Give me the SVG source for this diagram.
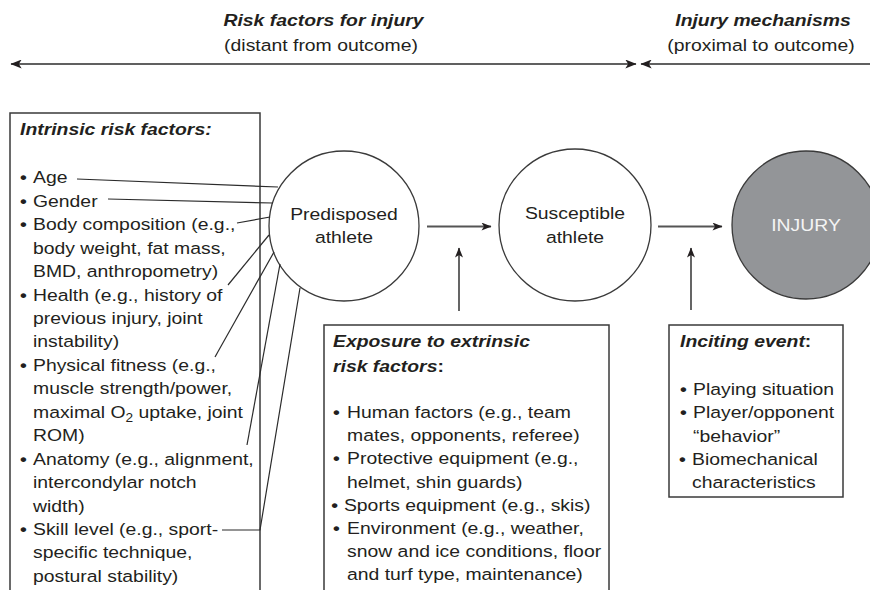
<svg xmlns="http://www.w3.org/2000/svg" width="870" height="590" viewBox="0 0 870 590">
<style>
text{font-family:"Liberation Sans",Arial,sans-serif;font-size:17px;fill:#231f20}
.h{font-weight:bold;font-style:italic}
.c{text-anchor:middle}
.b{font-weight:bold}
.box{fill:#fff;stroke:#3a3a3a;stroke-width:1.5}
.node{fill:#fff;stroke:#3a3a3a;stroke-width:1.3}
.inj{fill:#939598;stroke:#3a3a3a;stroke-width:1.3}
.ln{fill:none;stroke:#2b2b2b;stroke-width:1.2}
.ar{fill:none;stroke:#555;stroke-width:1.8}
.top{fill:none;stroke:#2b2b2b;stroke-width:1.5}
</style>
<defs>
<marker id="ah" viewBox="0 0 10 8" refX="9.5" refY="4" markerWidth="11" markerHeight="8" markerUnits="userSpaceOnUse" orient="auto-start-reverse">
<path d="M0,0 L10,4 L0,8 L2.5,4 z" fill="#231f20"/>
</marker>
<marker id="ahT" viewBox="0 0 10 8" refX="9.5" refY="4" markerWidth="12" markerHeight="9" markerUnits="userSpaceOnUse" orient="auto-start-reverse">
<path d="M0,0 L10,4 L0,8 L2.5,4 z" fill="#231f20"/>
</marker>
</defs>
<rect width="870" height="590" fill="#fff"/>

<g id="header">
<text class="h c" transform="translate(323.5 26) scale(1.14 1)">Risk factors for injury</text>
<text class="c" transform="translate(321 51) scale(1.14 1)">(distant from outcome)</text>
<text class="h c" transform="translate(763 26) scale(1.14 1)">Injury mechanisms</text>
<text class="c" transform="translate(761 51) scale(1.14 1)">(proximal to outcome)</text>
<line class="top" x1="11" y1="64" x2="636" y2="64" marker-start="url(#ahT)" marker-end="url(#ahT)"/>
<line class="top" x1="641" y1="64" x2="875" y2="64" marker-start="url(#ahT)"/>
</g>

<g id="intrinsic">
<rect class="box" x="10" y="113" width="250" height="490"/>
<g transform="translate(20 0) scale(1.14 1)">
<text class="h" x="0" y="135.5">Intrinsic risk factors:</text>
<text>
<tspan class="b" x="0" y="183.3">•</tspan><tspan x="11.4" y="183.3">Age</tspan>
<tspan class="b" x="0" y="206.75">•</tspan><tspan x="11.4" y="206.75">Gender</tspan>
<tspan class="b" x="0" y="230.2">•</tspan><tspan x="11.4" y="230.2">Body composition (e.g.,</tspan>
<tspan x="11.4" y="253.65">body weight, fat mass,</tspan>
<tspan x="11.4" y="277.1">BMD, anthropometry)</tspan>
<tspan class="b" x="0" y="300.55">•</tspan><tspan x="11.4" y="300.55">Health (e.g., history of</tspan>
<tspan x="11.4" y="324">previous injury, joint</tspan>
<tspan x="11.4" y="347.45">instability)</tspan>
<tspan class="b" x="0" y="370.9">•</tspan><tspan x="11.4" y="370.9">Physical fitness (e.g.,</tspan>
<tspan x="11.4" y="394.35">muscle strength/power,</tspan>
<tspan x="11.4" y="417.8">maximal O</tspan><tspan dy="4" font-size="12">2</tspan><tspan dy="-4"> uptake, joint</tspan>
<tspan x="11.4" y="441.25">ROM)</tspan>
<tspan class="b" x="0" y="464.7">•</tspan><tspan x="11.4" y="464.7">Anatomy (e.g., alignment,</tspan>
<tspan x="11.4" y="488.15">intercondylar notch</tspan>
<tspan x="11.4" y="511.6">width)</tspan>
<tspan class="b" x="0" y="535.05">•</tspan><tspan x="11.4" y="535.05">Skill level (e.g., sport-</tspan>
<tspan x="11.4" y="558.5">specific technique,</tspan>
<tspan x="11.4" y="581.95">postural stability)</tspan>
</text>
</g>
</g>

<g id="predisposed">
<circle class="node" cx="344" cy="226" r="75"/>
<text class="c" transform="translate(344 220) scale(1.14 1)">Predisposed</text>
<text class="c" transform="translate(344 243) scale(1.14 1)">athlete</text>
</g>

<g id="susceptible">
<circle class="node" cx="575" cy="225" r="76"/>
<text class="c" transform="translate(575 219) scale(1.14 1)">Susceptible</text>
<text class="c" transform="translate(575 243) scale(1.14 1)">athlete</text>
</g>

<g id="injury">
<circle class="inj" cx="806" cy="225" r="74"/>
<text class="c" transform="translate(806 231) scale(1.14 1)" style="fill:#f4f4f4">INJURY</text>
</g>

<g id="exposure">
<rect class="box" x="324" y="325" width="285" height="280"/>
<g transform="translate(333 0) scale(1.14 1)">
<text class="h" x="0" y="347">Exposure to extrinsic</text>
<text class="h" x="0" y="372">risk factors<tspan style="font-style:normal">:</tspan></text>
<text>
<tspan class="b" x="0" y="418">•</tspan><tspan x="12.3" y="418">Human factors (e.g., team</tspan>
<tspan x="12.3" y="441.2">mates, opponents, referee)</tspan>
<tspan class="b" x="0" y="464.4">•</tspan><tspan x="12.3" y="464.4">Protective equipment (e.g.,</tspan>
<tspan x="12.3" y="487.6">helmet, shin guards)</tspan>
<tspan class="b" x="-1.5" y="510.8">•</tspan><tspan x="9.6" y="510.8">Sports equipment (e.g., skis)</tspan>
<tspan class="b" x="0" y="534">•</tspan><tspan x="12.3" y="534">Environment (e.g., weather,</tspan>
<tspan x="12.3" y="557.2">snow and ice conditions, floor</tspan>
<tspan x="12.3" y="580.4">and turf type, maintenance)</tspan>
</text>
</g>
</g>

<g id="inciting">
<rect class="box" x="669" y="325" width="174" height="172"/>
<g transform="translate(680 0) scale(1.14 1)">
<text class="h" x="0" y="347">Inciting event<tspan style="font-style:normal">:</tspan></text>
<text>
<tspan class="b" x="0" y="395">•</tspan><tspan x="11.4" y="395">Playing situation</tspan>
<tspan class="b" x="0" y="418.3">•</tspan><tspan x="11.4" y="418.3">Player/opponent</tspan>
<tspan x="11.4" y="441.6">“behavior”</tspan>
<tspan class="b" x="-0.9" y="464.9">•</tspan><tspan x="10.5" y="464.9">Biomechanical</tspan>
<tspan x="10.5" y="488.2">characteristics</tspan>
</text>
</g>
</g>

<g id="connectors">
<polyline class="ln" points="77,179 278,187"/>
<polyline class="ln" points="108,199 273,203"/>
<polyline class="ln" points="237,223 270,217"/>
<polyline class="ln" points="228,285 269,235"/>
<polyline class="ln" points="215,357 274,252"/>
<polyline class="ln" points="247,445 280,264"/>
<polyline class="ln" points="222,530 260,530 300,288"/>
<line class="ar" x1="427" y1="226.5" x2="491" y2="226.5" marker-end="url(#ah)"/>
<line class="ar" x1="658" y1="226.5" x2="722" y2="226.5" marker-end="url(#ah)"/>
<line class="ar" x1="459" y1="311" x2="459" y2="248" marker-end="url(#ah)"/>
<line class="ar" x1="691" y1="310" x2="691" y2="248" marker-end="url(#ah)"/>
</g>
</svg>
